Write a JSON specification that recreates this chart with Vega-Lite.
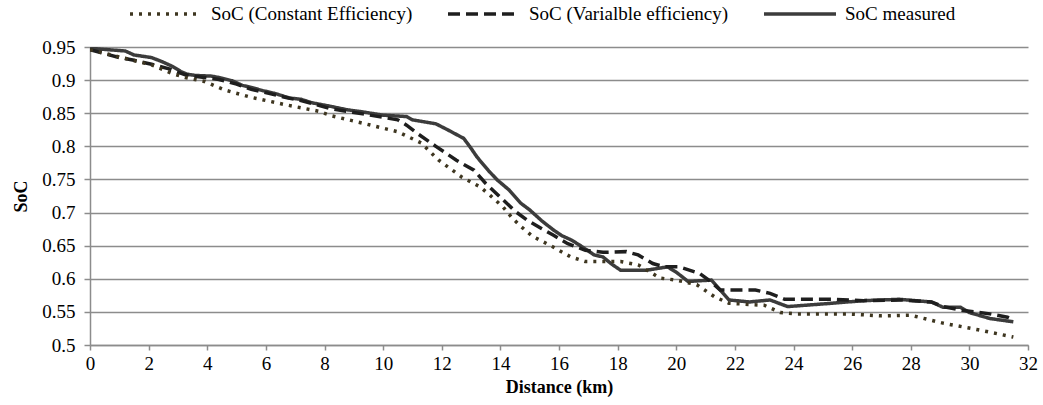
{
  "$schema": "https://vega.github.io/schema/vega-lite/v6.json",
  "width": 938,
  "height": 298,
  "autosize": {"type": "none"},
  "padding": {"left": 90, "top": 47, "right": 15, "bottom": 60},
  "background": "white",
  "config": {
    "font": "'Liberation Serif', 'Times New Roman', serif",
    "view": {"stroke": null},
    "axis": {"labelFont": "'Liberation Serif', 'Times New Roman', serif", "titleFont": "'Liberation Serif', 'Times New Roman', serif", "labelFontSize": 19, "titleFontSize": 18, "labelColor": "#000", "titleColor": "#000", "domainColor": "#8c8c8c", "tickColor": "#8c8c8c", "domainWidth": 1.5, "tickWidth": 1.5, "gridColor": "#8c8c8c", "gridWidth": 1.5},
    "legend": {"labelFont": "'Liberation Serif', 'Times New Roman', serif", "labelFontSize": 19, "labelColor": "#000", "labelLimit": 400}
  },
  "data": {"values": [
    {"km": 0, "soc": 0.948, "s": "SoC measured"},
    {"km": 0.6, "soc": 0.946, "s": "SoC measured"},
    {"km": 1.2, "soc": 0.944, "s": "SoC measured"},
    {"km": 1.5, "soc": 0.938, "s": "SoC measured"},
    {"km": 2.1, "soc": 0.934, "s": "SoC measured"},
    {"km": 2.45, "soc": 0.928, "s": "SoC measured"},
    {"km": 2.8, "soc": 0.921, "s": "SoC measured"},
    {"km": 3.1, "soc": 0.913, "s": "SoC measured"},
    {"km": 3.3, "soc": 0.909, "s": "SoC measured"},
    {"km": 3.6, "soc": 0.907, "s": "SoC measured"},
    {"km": 4.15, "soc": 0.906, "s": "SoC measured"},
    {"km": 4.5, "soc": 0.903, "s": "SoC measured"},
    {"km": 4.85, "soc": 0.899, "s": "SoC measured"},
    {"km": 5.2, "soc": 0.892, "s": "SoC measured"},
    {"km": 5.5, "soc": 0.889, "s": "SoC measured"},
    {"km": 5.9, "soc": 0.884, "s": "SoC measured"},
    {"km": 6.3, "soc": 0.880, "s": "SoC measured"},
    {"km": 6.8, "soc": 0.873, "s": "SoC measured"},
    {"km": 7.2, "soc": 0.871, "s": "SoC measured"},
    {"km": 7.55, "soc": 0.866, "s": "SoC measured"},
    {"km": 8.25, "soc": 0.860, "s": "SoC measured"},
    {"km": 8.8, "soc": 0.855, "s": "SoC measured"},
    {"km": 9.3, "soc": 0.852, "s": "SoC measured"},
    {"km": 10.0, "soc": 0.847, "s": "SoC measured"},
    {"km": 10.8, "soc": 0.845, "s": "SoC measured"},
    {"km": 11.0, "soc": 0.840, "s": "SoC measured"},
    {"km": 11.8, "soc": 0.834, "s": "SoC measured"},
    {"km": 12.2, "soc": 0.825, "s": "SoC measured"},
    {"km": 12.75, "soc": 0.812, "s": "SoC measured"},
    {"km": 13.0, "soc": 0.797, "s": "SoC measured"},
    {"km": 13.2, "soc": 0.784, "s": "SoC measured"},
    {"km": 13.6, "soc": 0.763, "s": "SoC measured"},
    {"km": 13.9, "soc": 0.749, "s": "SoC measured"},
    {"km": 14.3, "soc": 0.734, "s": "SoC measured"},
    {"km": 14.7, "soc": 0.714, "s": "SoC measured"},
    {"km": 15.0, "soc": 0.704, "s": "SoC measured"},
    {"km": 15.4, "soc": 0.688, "s": "SoC measured"},
    {"km": 15.8, "soc": 0.674, "s": "SoC measured"},
    {"km": 16.1, "soc": 0.665, "s": "SoC measured"},
    {"km": 16.4, "soc": 0.659, "s": "SoC measured"},
    {"km": 16.7, "soc": 0.651, "s": "SoC measured"},
    {"km": 17.2, "soc": 0.636, "s": "SoC measured"},
    {"km": 17.5, "soc": 0.633, "s": "SoC measured"},
    {"km": 17.8, "soc": 0.622, "s": "SoC measured"},
    {"km": 18.1, "soc": 0.613, "s": "SoC measured"},
    {"km": 19.0, "soc": 0.613, "s": "SoC measured"},
    {"km": 19.7, "soc": 0.618, "s": "SoC measured"},
    {"km": 20.0, "soc": 0.610, "s": "SoC measured"},
    {"km": 20.4, "soc": 0.596, "s": "SoC measured"},
    {"km": 21.2, "soc": 0.598, "s": "SoC measured"},
    {"km": 21.8, "soc": 0.568, "s": "SoC measured"},
    {"km": 22.5, "soc": 0.565, "s": "SoC measured"},
    {"km": 23.2, "soc": 0.568, "s": "SoC measured"},
    {"km": 23.8, "soc": 0.558, "s": "SoC measured"},
    {"km": 25.3, "soc": 0.563, "s": "SoC measured"},
    {"km": 26.4, "soc": 0.567, "s": "SoC measured"},
    {"km": 27.6, "soc": 0.569, "s": "SoC measured"},
    {"km": 28.7, "soc": 0.565, "s": "SoC measured"},
    {"km": 29.1, "soc": 0.557, "s": "SoC measured"},
    {"km": 29.7, "soc": 0.557, "s": "SoC measured"},
    {"km": 30.0, "soc": 0.549, "s": "SoC measured"},
    {"km": 30.7, "soc": 0.540, "s": "SoC measured"},
    {"km": 31.5, "soc": 0.535, "s": "SoC measured"},

    {"km": 0, "soc": 0.946, "s": "SoC (Varialble efficiency)"},
    {"km": 0.5, "soc": 0.940, "s": "SoC (Varialble efficiency)"},
    {"km": 1.0, "soc": 0.934, "s": "SoC (Varialble efficiency)"},
    {"km": 1.5, "soc": 0.930, "s": "SoC (Varialble efficiency)"},
    {"km": 2.1, "soc": 0.924, "s": "SoC (Varialble efficiency)"},
    {"km": 2.7, "soc": 0.917, "s": "SoC (Varialble efficiency)"},
    {"km": 3.25, "soc": 0.908, "s": "SoC (Varialble efficiency)"},
    {"km": 3.7, "soc": 0.905, "s": "SoC (Varialble efficiency)"},
    {"km": 4.4, "soc": 0.901, "s": "SoC (Varialble efficiency)"},
    {"km": 5.0, "soc": 0.894, "s": "SoC (Varialble efficiency)"},
    {"km": 5.5, "soc": 0.886, "s": "SoC (Varialble efficiency)"},
    {"km": 6.1, "soc": 0.880, "s": "SoC (Varialble efficiency)"},
    {"km": 6.65, "soc": 0.874, "s": "SoC (Varialble efficiency)"},
    {"km": 7.2, "soc": 0.869, "s": "SoC (Varialble efficiency)"},
    {"km": 7.8, "soc": 0.862, "s": "SoC (Varialble efficiency)"},
    {"km": 8.2, "soc": 0.857, "s": "SoC (Varialble efficiency)"},
    {"km": 9.3, "soc": 0.849, "s": "SoC (Varialble efficiency)"},
    {"km": 10.5, "soc": 0.840, "s": "SoC (Varialble efficiency)"},
    {"km": 10.8, "soc": 0.832, "s": "SoC (Varialble efficiency)"},
    {"km": 11.15, "soc": 0.820, "s": "SoC (Varialble efficiency)"},
    {"km": 11.8, "soc": 0.800, "s": "SoC (Varialble efficiency)"},
    {"km": 12.5, "soc": 0.779, "s": "SoC (Varialble efficiency)"},
    {"km": 13.1, "soc": 0.764, "s": "SoC (Varialble efficiency)"},
    {"km": 13.5, "soc": 0.744, "s": "SoC (Varialble efficiency)"},
    {"km": 14.1, "soc": 0.719, "s": "SoC (Varialble efficiency)"},
    {"km": 14.5, "soc": 0.702, "s": "SoC (Varialble efficiency)"},
    {"km": 14.9, "soc": 0.689, "s": "SoC (Varialble efficiency)"},
    {"km": 15.4, "soc": 0.676, "s": "SoC (Varialble efficiency)"},
    {"km": 15.8, "soc": 0.666, "s": "SoC (Varialble efficiency)"},
    {"km": 16.3, "soc": 0.653, "s": "SoC (Varialble efficiency)"},
    {"km": 16.9, "soc": 0.643, "s": "SoC (Varialble efficiency)"},
    {"km": 17.5, "soc": 0.640, "s": "SoC (Varialble efficiency)"},
    {"km": 18.3, "soc": 0.641, "s": "SoC (Varialble efficiency)"},
    {"km": 18.7, "soc": 0.636, "s": "SoC (Varialble efficiency)"},
    {"km": 19.2, "soc": 0.623, "s": "SoC (Varialble efficiency)"},
    {"km": 19.6, "soc": 0.618, "s": "SoC (Varialble efficiency)"},
    {"km": 20.1, "soc": 0.618, "s": "SoC (Varialble efficiency)"},
    {"km": 20.8, "soc": 0.608, "s": "SoC (Varialble efficiency)"},
    {"km": 21.2, "soc": 0.595, "s": "SoC (Varialble efficiency)"},
    {"km": 21.5, "soc": 0.583, "s": "SoC (Varialble efficiency)"},
    {"km": 22.1, "soc": 0.583, "s": "SoC (Varialble efficiency)"},
    {"km": 22.7, "soc": 0.583, "s": "SoC (Varialble efficiency)"},
    {"km": 23.2, "soc": 0.578, "s": "SoC (Varialble efficiency)"},
    {"km": 23.7, "soc": 0.569, "s": "SoC (Varialble efficiency)"},
    {"km": 25.3, "soc": 0.569, "s": "SoC (Varialble efficiency)"},
    {"km": 26.4, "soc": 0.567, "s": "SoC (Varialble efficiency)"},
    {"km": 27.7, "soc": 0.568, "s": "SoC (Varialble efficiency)"},
    {"km": 28.7, "soc": 0.565, "s": "SoC (Varialble efficiency)"},
    {"km": 29.1, "soc": 0.558, "s": "SoC (Varialble efficiency)"},
    {"km": 29.8, "soc": 0.552, "s": "SoC (Varialble efficiency)"},
    {"km": 30.7, "soc": 0.547, "s": "SoC (Varialble efficiency)"},
    {"km": 31.3, "soc": 0.542, "s": "SoC (Varialble efficiency)"},
    {"km": 31.5, "soc": 0.538, "s": "SoC (Varialble efficiency)"},

    {"km": 0, "soc": 0.946, "s": "SoC (Constant Efficiency)"},
    {"km": 1.0, "soc": 0.935, "s": "SoC (Constant Efficiency)"},
    {"km": 2.1, "soc": 0.923, "s": "SoC (Constant Efficiency)"},
    {"km": 2.8, "soc": 0.910, "s": "SoC (Constant Efficiency)"},
    {"km": 3.25, "soc": 0.904, "s": "SoC (Constant Efficiency)"},
    {"km": 3.9, "soc": 0.898, "s": "SoC (Constant Efficiency)"},
    {"km": 4.6, "soc": 0.885, "s": "SoC (Constant Efficiency)"},
    {"km": 5.5, "soc": 0.874, "s": "SoC (Constant Efficiency)"},
    {"km": 6.65, "soc": 0.863, "s": "SoC (Constant Efficiency)"},
    {"km": 7.8, "soc": 0.853, "s": "SoC (Constant Efficiency)"},
    {"km": 8.25, "soc": 0.846, "s": "SoC (Constant Efficiency)"},
    {"km": 9.3, "soc": 0.835, "s": "SoC (Constant Efficiency)"},
    {"km": 10.5, "soc": 0.822, "s": "SoC (Constant Efficiency)"},
    {"km": 11.3, "soc": 0.805, "s": "SoC (Constant Efficiency)"},
    {"km": 11.9, "soc": 0.779, "s": "SoC (Constant Efficiency)"},
    {"km": 12.7, "soc": 0.753, "s": "SoC (Constant Efficiency)"},
    {"km": 13.3, "soc": 0.739, "s": "SoC (Constant Efficiency)"},
    {"km": 13.65, "soc": 0.726, "s": "SoC (Constant Efficiency)"},
    {"km": 14.1, "soc": 0.708, "s": "SoC (Constant Efficiency)"},
    {"km": 14.4, "soc": 0.692, "s": "SoC (Constant Efficiency)"},
    {"km": 14.7, "soc": 0.679, "s": "SoC (Constant Efficiency)"},
    {"km": 15.1, "soc": 0.664, "s": "SoC (Constant Efficiency)"},
    {"km": 15.8, "soc": 0.648, "s": "SoC (Constant Efficiency)"},
    {"km": 16.4, "soc": 0.633, "s": "SoC (Constant Efficiency)"},
    {"km": 16.9, "soc": 0.626, "s": "SoC (Constant Efficiency)"},
    {"km": 18.1, "soc": 0.626, "s": "SoC (Constant Efficiency)"},
    {"km": 18.7, "soc": 0.621, "s": "SoC (Constant Efficiency)"},
    {"km": 19.45, "soc": 0.601, "s": "SoC (Constant Efficiency)"},
    {"km": 20.0, "soc": 0.598, "s": "SoC (Constant Efficiency)"},
    {"km": 20.7, "soc": 0.591, "s": "SoC (Constant Efficiency)"},
    {"km": 21.3, "soc": 0.573, "s": "SoC (Constant Efficiency)"},
    {"km": 21.8, "soc": 0.563, "s": "SoC (Constant Efficiency)"},
    {"km": 23.0, "soc": 0.560, "s": "SoC (Constant Efficiency)"},
    {"km": 23.55, "soc": 0.549, "s": "SoC (Constant Efficiency)"},
    {"km": 24.1, "soc": 0.547, "s": "SoC (Constant Efficiency)"},
    {"km": 25.8, "soc": 0.547, "s": "SoC (Constant Efficiency)"},
    {"km": 27.0, "soc": 0.544, "s": "SoC (Constant Efficiency)"},
    {"km": 28.0, "soc": 0.545, "s": "SoC (Constant Efficiency)"},
    {"km": 29.1, "soc": 0.533, "s": "SoC (Constant Efficiency)"},
    {"km": 30.3, "soc": 0.523, "s": "SoC (Constant Efficiency)"},
    {"km": 31.5, "soc": 0.512, "s": "SoC (Constant Efficiency)"}
  ]},
  "mark": {"type": "line", "strokeWidth": 3.5, "strokeCap": "butt", "clip": true},
  "encoding": {
    "x": {"field": "km", "type": "quantitative", "scale": {"domain": [0, 32], "nice": false},
      "axis": {"title": "Distance (km)", "values": [0,2,4,6,8,10,12,14,16,18,20,22,24,26,28,30,32], "grid": false, "tickSize": 5, "labelPadding": 4, "titlePadding": 5, "titleFontWeight": "bold", "labelFlush": false}},
    "y": {"field": "soc", "type": "quantitative", "scale": {"domain": [0.5, 0.95], "nice": false, "zero": false},
      "axis": {"title": "SoC", "values": [0.5,0.55,0.6,0.65,0.7,0.75,0.8,0.85,0.9,0.95], "format": ".2~f", "grid": true, "tickSize": 6, "labelPadding": 9, "titlePadding": 11, "titleFontWeight": "bold", "labelFlush": false}},
    "color": {"field": "s", "type": "nominal",
      "scale": {"domain": ["SoC (Constant Efficiency)", "SoC (Varialble efficiency)", "SoC measured"], "range": ["#3e3620", "#1e1e1e", "#3c3c3c"]},
      "legend": {"title": null, "orient": "none", "legendX": 38, "legendY": -71, "direction": "horizontal", "symbolType": "stroke", "symbolSize": 5184, "symbolStrokeWidth": 3.5, "columnPadding": 28, "labelOffset": 7}},
    "strokeDash": {"field": "s", "type": "nominal",
      "scale": {"domain": ["SoC (Constant Efficiency)", "SoC (Varialble efficiency)", "SoC measured"], "range": [[3, 6], [12, 6], [1, 0]]},
      "legend": null},
    "order": {"field": "km", "type": "quantitative"}
  }
}
